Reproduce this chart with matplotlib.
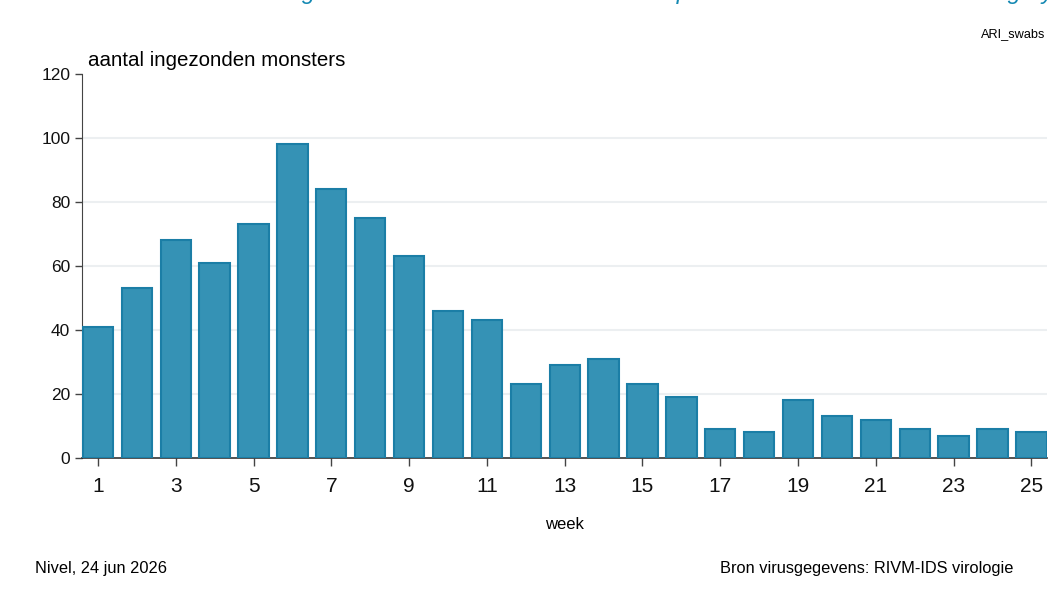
import matplotlib.pyplot as plt
import numpy as np

plt.rcParams['font.family'] = ['Liberation Sans', 'DejaVu Sans']

# weekly number of submitted samples
weeks = np.arange(1, 26)
samples = [41, 53, 68, 61, 73, 98, 84, 75, 63, 46, 43, 23, 29, 31, 23,
           19, 9, 8, 18, 13, 12, 9, 7, 9, 8]
xticks = list(range(1, 26, 2))
yticks = [0, 20, 40, 60, 80, 100, 120]

# title is cut off at the top edge in the reference, only descenders show
title = "Aantal ingezonden monsters van huisartsen per week in Nederland ook Hungary"

fig = plt.figure(figsize=(10.57, 6.01), dpi=100)
ax = fig.add_axes([0.0776, 0.238, 0.9129, 0.639])

ax.bar(weeks, samples, width=0.78, color='#3592b5', edgecolor='#1b7ea6',
       linewidth=1.5, zorder=3)

ax.set_xlim(0.59, 25.4)
ax.set_ylim(0, 120)
ax.set_xticks(xticks)
ax.set_yticks(yticks)
ax.tick_params(axis='x', labelsize=15, length=6, width=1, color='#444444',
               pad=8, labelcolor='#111111')
ax.tick_params(axis='y', labelsize=12.5, length=5, width=1, color='#444444',
               labelcolor='#111111')
for y in yticks[1:-1]:
    ax.axhline(y, color='#eceff1', linewidth=1.5, zorder=1)

for s in ['top', 'right']:
    ax.spines[s].set_visible(False)
ax.spines['left'].set_color('#444444')
ax.spines['bottom'].set_color('#333333')
ax.spines['bottom'].set_linewidth(1.2)

ax.set_xlabel('week', fontsize=12, labelpad=15)

fig.text(0.083, 0.90, 'aantal ingezonden monsters', fontsize=14.8,
         ha='left', va='center')
fig.text(0.989, 0.943, 'ARI_swabs', fontsize=9.2, ha='right', va='center')
fig.text(0.033, 0.054, 'Nivel, 24 jun 2026', fontsize=11.8, ha='left',
         va='center')
fig.text(0.959, 0.054, 'Bron virusgegevens: RIVM-IDS virologie', fontsize=11.8,
         ha='right', va='center')
fig.text(0.997, 1.002, title, fontsize=17, style='italic', color='#1589b3',
         ha='right', va='baseline')

fig.savefig('out.png', dpi=100)
